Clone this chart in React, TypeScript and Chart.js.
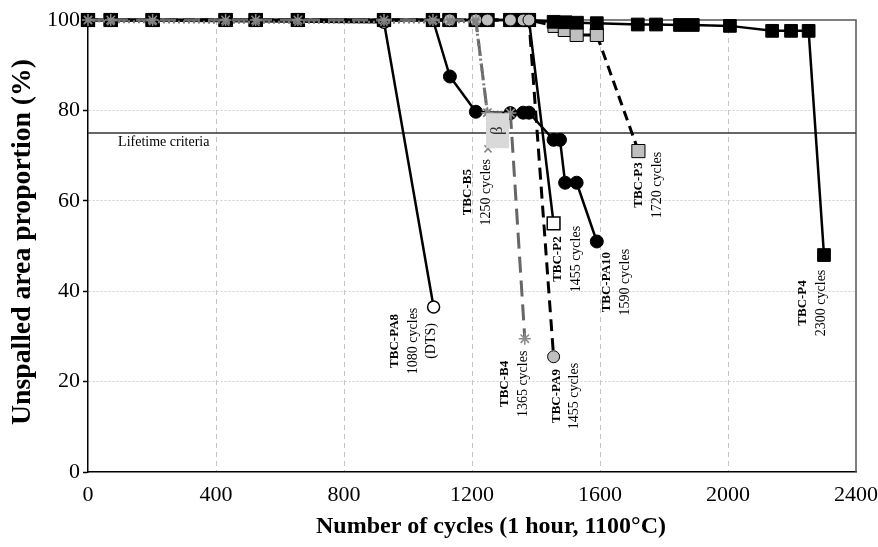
import React, { useEffect, useRef } from 'react';
import { Chart, registerables } from 'chart.js';

Chart.register(...registerables);

const FONT = '"Liberation Serif", "Times New Roman", serif';

// ---- axis ticks & titles ----
const xTickValues = [0, 400, 800, 1200, 1600, 2000, 2400];
const yTickValues = [0, 20, 40, 60, 80, 100];
const xTitle = 'Number of cycles (1 hour, 1100°C)';
const yTitle = 'Unspalled area proportion (%)';

// ---- series data (cycles, unspalled area %) ----
const b5Cycles = [0, 71, 202, 430, 524, 656, 925, 1078, 1130, 1212, 1248, 1250];
const b5Area = [100, 99.6, 99.6, 99.5, 99.5, 99.5, 99.5, 99.6, 99.6, 99.6, 79.5, 71.5];

const b4Cycles = [0, 71, 202, 430, 524, 656, 925, 1078, 1130, 1212, 1248, 1320, 1365];
const b4Area = [100, 100, 100, 100, 100, 100, 100, 100, 100, 100, 79.5, 79.4, 29.5];

const pa9Cycles = [0, 1130, 1212, 1248, 1320, 1360, 1378, 1455];
const pa9Area = [100, 100, 100, 100, 100, 100, 100, 25.5];

const p4Cycles = [0, 71, 202, 430, 524, 656, 925, 1078, 1130, 1212, 1248, 1320, 1360, 1378, 1455, 1492, 1528, 1590, 1718, 1775, 1850, 1890, 2006, 2138, 2197, 2252, 2300];
const p4Area = [100, 100, 100, 100, 100, 100, 100, 100, 100, 100, 100, 100, 100, 100, 99.6, 99.5, 99.4, 99.3, 99.0, 99.0, 98.9, 98.9, 98.7, 97.6, 97.6, 97.6, 48];

const pa10Cycles = [0, 1078, 1131, 1212, 1320, 1360, 1378, 1455, 1475, 1491, 1527, 1590];
const pa10Area = [100, 100, 87.5, 79.7, 79.4, 79.5, 79.5, 73.5, 73.5, 64, 64, 51];

const pa8Cycles = [0, 925, 1080];
const pa8Area = [100, 99.5, 36.5];

const p2Cycles = [0, 71, 202, 430, 524, 656, 925, 1078, 1130, 1212, 1248, 1320, 1360, 1378, 1455];
const p2Area = [100, 100, 100, 100, 100, 100, 100, 100, 100, 100, 100, 100, 100, 100, 55];

const p3Cycles = [0, 71, 202, 430, 524, 656, 925, 1078, 1130, 1212, 1248, 1320, 1360, 1378, 1458, 1490, 1527, 1590, 1720];
const p3Area = [100, 100, 100, 100, 100, 100, 100, 100, 100, 100, 100, 100, 100, 100, 98.7, 97.8, 96.7, 96.7, 71];

const lifetimeCycles = [0, 2400];
const lifetimeArea = [75, 75];

// ---- annotation texts ----
const labelNames = ['TBC-PA8', 'TBC-B5', 'TBC-B4', 'TBC-PA9', 'TBC-P2', 'TBC-PA10', 'TBC-P3', 'TBC-P4'];
const labelDetails = [
  ['1080 cycles', '(DTS)'],
  ['1250 cycles'],
  ['1365 cycles'],
  ['1455 cycles'],
  ['1455 cycles'],
  ['1590 cycles'],
  ['1720 cycles'],
  ['2300 cycles'],
];
// anchor of each label group, in data coordinates (cycles, %)
const labelAnchors = [
  { x: 959, y: 29.0 },
  { x: 1187, y: 61.9 },
  { x: 1303, y: 19.5 },
  { x: 1465, y: 16.8 },
  { x: 1469, y: 47.1 },
  { x: 1622, y: 42.0 },
  { x: 1722, y: 63.5 },
  { x: 2234, y: 37.4 },
];
const lifetimeText = 'Lifetime criteria';
const lifetimeTextAnchor = { x: 94, y: 73.0 };
const betaText = 'β';
const betaAnchor = { x: 1280, y: 75.5 };

const pts = (xs: number[], ys: number[]) => xs.map((x, i) => ({ x, y: ys[i] }));

const annotationPlugin = {
  id: 'annotations',
  beforeDatasetsDraw(chart: any) {
    const { ctx, chartArea } = chart;
    ctx.save();
    ctx.strokeStyle = '#555';
    ctx.lineWidth = 1.5;
    ctx.beginPath();
    ctx.moveTo(chartArea.left, chartArea.top);
    ctx.lineTo(chartArea.right, chartArea.top);
    ctx.lineTo(chartArea.right, chartArea.bottom);
    ctx.stroke();
    ctx.restore();
  },
  afterDatasetsDraw(chart: any) {
    const { ctx, chartArea } = chart;
    const xs = chart.scales.x;
    const ys = chart.scales.y;
    ctx.save();

    // axis titles
    ctx.fillStyle = '#000';
    ctx.textAlign = 'center';
    ctx.textBaseline = 'middle';
    ctx.font = `bold 24px ${FONT}`;
    ctx.fillText(xTitle, (chartArea.left + chartArea.right) / 2 + 19, chartArea.bottom + 55);
    ctx.save();
    ctx.translate(chartArea.left - 65, (chartArea.top + chartArea.bottom) / 2 - 4);
    ctx.rotate(-Math.PI / 2);
    ctx.font = `bold 27.7px ${FONT}`;
    ctx.fillText(yTitle, 0, 0);
    ctx.restore();

    // lifetime text
    ctx.font = `14px ${FONT}`;
    ctx.textAlign = 'left';
    ctx.fillText(lifetimeText, xs.getPixelForValue(lifetimeTextAnchor.x), ys.getPixelForValue(lifetimeTextAnchor.y));

    // beta box
    const bx = xs.getPixelForValue(betaAnchor.x);
    const by = ys.getPixelForValue(betaAnchor.y);
    ctx.fillStyle = '#d9d9d9';
    ctx.fillRect(bx - 11.5, by - 17.5, 23, 35);
    ctx.save();
    ctx.translate(bx, by);
    ctx.rotate(-Math.PI / 2);
    ctx.fillStyle = '#333';
    ctx.font = `17px ${FONT}`;
    ctx.textAlign = 'center';
    ctx.textBaseline = 'middle';
    ctx.fillText(betaText, 0, 0);
    ctx.restore();

    // rotated labels
    labelNames.forEach((name, i) => {
      const px = xs.getPixelForValue(labelAnchors[i].x);
      const py = ys.getPixelForValue(labelAnchors[i].y);
      ctx.save();
      ctx.translate(px, py);
      ctx.rotate(-Math.PI / 2);
      ctx.textAlign = 'center';
      ctx.textBaseline = 'middle';
      ctx.fillStyle = '#000';
      ctx.font = `bold 13px ${FONT}`;
      ctx.fillText(name, 0, 0);
      ctx.font = `14px ${FONT}`;
      labelDetails[i].forEach((line, j) => {
        ctx.fillText(line, 0, (j + 1) * 18);
      });
      ctx.restore();
    });
    ctx.restore();
  },
};

export default function App() {
  const canvasRef = useRef<HTMLCanvasElement>(null);

  useEffect(() => {
    if (!canvasRef.current) return;
    const edgeTransparent = (lo: number, hi: number, col: string) => (c: any) =>
      c.tick && (c.tick.value === lo || c.tick.value === hi) ? 'rgba(0,0,0,0)' : col;

    const chart = new Chart(canvasRef.current, {
      type: 'line',
      data: {
        datasets: [
          {
            label: 'TBC-B5',
            data: pts(b5Cycles, b5Area),
            borderColor: '#7a7a7a',
            borderWidth: 3,
            borderDash: [2, 3],
            pointStyle: 'crossRot',
            pointRadius: 5,
            pointBorderColor: '#808080',
            pointBorderWidth: 1.5,
            backgroundColor: '#808080',
          },
          {
            label: 'TBC-B4',
            data: pts(b4Cycles, b4Area),
            borderColor: '#666',
            borderWidth: 3,
            borderDash: [16, 8],
            pointStyle: 'star',
            pointRadius: 6,
            pointBorderColor: '#8c8c8c',
            pointBorderWidth: 1.5,
            backgroundColor: '#8c8c8c',
          },
          {
            label: 'TBC-PA9',
            data: pts(pa9Cycles, pa9Area),
            borderColor: '#000',
            borderWidth: 3,
            borderDash: [12, 7],
            pointStyle: 'circle',
            pointRadius: pa9Cycles.map((_, i) => (i === 0 ? 0 : 6)),
            pointBackgroundColor: '#bfbfbf',
            pointBorderColor: '#000',
            pointBorderWidth: 1,
            backgroundColor: '#bfbfbf',
          },
          {
            label: 'TBC-P4',
            data: pts(p4Cycles, p4Area),
            borderColor: '#000',
            borderWidth: 2.5,
            pointStyle: 'rect',
            pointRadius: 9,
            pointBackgroundColor: '#000',
            pointBorderColor: '#000',
            pointBorderWidth: 1,
            backgroundColor: '#000',
          },
          {
            label: 'TBC-PA10',
            data: pts(pa10Cycles, pa10Area),
            borderColor: '#000',
            borderWidth: 2.5,
            pointStyle: 'circle',
            pointRadius: pa10Cycles.map((_, i) => (i === 0 ? 0 : 6.5)),
            pointBackgroundColor: '#000',
            pointBorderColor: '#000',
            pointBorderWidth: 1,
            backgroundColor: '#000',
          },
          {
            label: 'TBC-PA8',
            data: pts(pa8Cycles, pa8Area),
            borderColor: '#000',
            borderWidth: 2.5,
            pointStyle: 'circle',
            pointRadius: 6,
            pointBackgroundColor: '#fff',
            pointBorderColor: '#000',
            pointBorderWidth: 1.5,
            backgroundColor: '#fff',
          },
          {
            label: 'TBC-P2',
            data: pts(p2Cycles, p2Area),
            borderColor: '#000',
            borderWidth: 2.5,
            pointStyle: 'rect',
            pointRadius: 9,
            pointBackgroundColor: '#fff',
            pointBorderColor: '#000',
            pointBorderWidth: 1.5,
            backgroundColor: '#fff',
          },
          {
            label: 'TBC-P3',
            data: pts(p3Cycles, p3Area),
            borderColor: '#000',
            borderWidth: 3,
            borderDash: [10, 6],
            pointStyle: 'rect',
            pointRadius: 9.3,
            pointBackgroundColor: '#bfbfbf',
            pointBorderColor: '#000',
            pointBorderWidth: 1,
            backgroundColor: '#bfbfbf',
          },
          {
            label: 'Lifetime criteria',
            data: pts(lifetimeCycles, lifetimeArea),
            borderColor: '#333',
            borderWidth: 1.5,
            pointRadius: 0,
          },
        ].map((d: any) => ({ ...d, tension: 0, clip: false, fill: false })),
      },
      options: {
        animation: false,
        responsive: false,
        devicePixelRatio: 1,
        layout: { padding: { left: 0, top: 20, right: 22, bottom: 0 } },
        plugins: {
          legend: { display: false },
          tooltip: { enabled: false },
        },
        scales: {
          x: {
            type: 'linear',
            min: xTickValues[0],
            max: xTickValues[xTickValues.length - 1],
            afterBuildTicks: (s: any) => {
              s.ticks = xTickValues.map((v) => ({ value: v }));
            },
            ticks: {
              font: { family: FONT, size: 22 },
              color: '#000',
              padding: 10,
              maxRotation: 0,
              autoSkip: false,
              callback: (v: any) => String(v),
            },
            grid: {
              color: edgeTransparent(0, 2400, '#c4c4c4'),
              lineWidth: 1,
              drawTicks: false,
            },
            border: { display: true, color: '#000', width: 1.5, dash: [5, 4] },
            title: { display: false },
            afterFit: (s: any) => {
              s.height = 75;
              s.paddingLeft = 0;
              s.paddingRight = 0;
            },
          },
          y: {
            type: 'linear',
            min: yTickValues[0],
            max: yTickValues[yTickValues.length - 1],
            afterBuildTicks: (s: any) => {
              s.ticks = yTickValues.map((v) => ({ value: v }));
            },
            ticks: {
              font: { family: FONT, size: 22 },
              color: '#000',
              padding: 3,
              callback: (v: any) => String(v),
            },
            grid: {
              color: edgeTransparent(0, 100, '#cfcfcf'),
              lineWidth: 1,
              drawTicks: true,
              tickLength: 5,
              tickColor: '#000',
              tickWidth: 1.5,
            },
            border: { display: true, color: '#000', width: 1.5, dash: [2, 2] },
            title: { display: false },
            afterFit: (s: any) => {
              s.width = 88;
              s.paddingTop = 0;
              s.paddingBottom = 0;
            },
          },
        },
      } as any,
      plugins: [annotationPlugin],
    });
    return () => chart.destroy();
  }, []);

  return (
    <div style={{ position: 'fixed', left: 0, top: 0, width: 878, height: 547, background: '#fff' }}>
      <canvas ref={canvasRef} width={878} height={547} style={{ display: 'block' }} />
    </div>
  );
}
